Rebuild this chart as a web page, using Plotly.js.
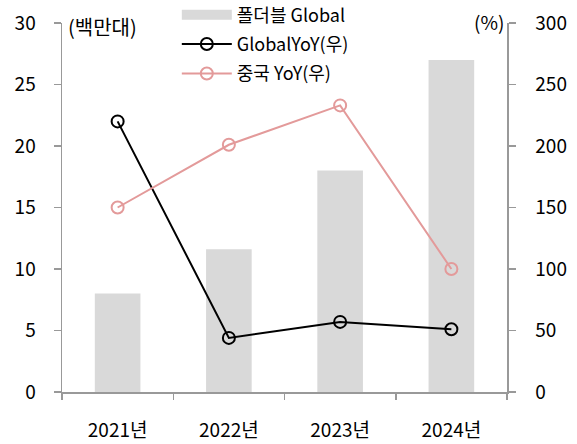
<!DOCTYPE html>
<html>
<head>
<meta charset="utf-8">
<script src="https://cdn.plot.ly/plotly-3.0.1.min.js"></script>
<style>html,body{margin:0;padding:0;background:#fff;}#chart{width:577px;height:444px;}</style>
</head>
<body>
<div id="chart"></div>
<script>
const categories = ["2021년", "2022년", "2023년", "2024년"];
const foldableGlobal = [8, 11.6, 18, 27];
const globalYoY = [220, 44, 57, 51];
const chinaYoY = [150, 201, 233, 100];
const leftTicks = [0, 5, 10, 15, 20, 25, 30];
const rightTicks = [0, 50, 100, 150, 200, 250, 300];

const FONT = "'Noto Sans CJK KR', 'Noto Sans', sans-serif";
const BAR_COLOR = "#d9d9d9";

const traces = [
  {
    type: "bar", x: categories, y: foldableGlobal, name: "폴더블 Global",
    marker: {color: BAR_COLOR}, width: 0.41, yaxis: "y", showlegend: false
  },
  {
    // legend-only entry giving the wide swatch of the bar series
    type: "scatter", mode: "lines", x: [null], y: [null], name: "폴더블 Global",
    line: {color: BAR_COLOR, width: 10}, legendgroup: "a", hoverinfo: "skip"
  },
  {
    type: "scatter", mode: "lines+markers", x: categories, y: globalYoY, name: "GlobalYoY(우)",
    line: {color: "#000000", width: 2}, yaxis: "y2", legendgroup: "b",
    marker: {symbol: "circle-open", size: 12, color: "#000000", line: {width: 2}}
  },
  {
    type: "scatter", mode: "lines+markers", x: categories, y: chinaYoY, name: "중국 YoY(우)",
    line: {color: "#e39a9a", width: 2}, yaxis: "y2", legendgroup: "c",
    marker: {symbol: "circle-open", size: 12, color: "#e39a9a", line: {width: 2}}
  }
];

const layout = {
  width: 577, height: 444,
  margin: {l: 62, r: 70, t: 23, b: 52, pad: 0, autoexpand: false},
  paper_bgcolor: "#fff", plot_bgcolor: "#fff",
  font: {family: FONT, size: 18, color: "#000"},
  showlegend: true,
  legend: {
    x: 0.258, y: 1.072, xanchor: "left", yanchor: "top",
    bgcolor: "rgba(0,0,0,0)", font: {size: 18, family: FONT},
    itemwidth: 50, tracegroupgap: 3, traceorder: "grouped"
  },
  xaxis: {
    type: "category", showline: true, linecolor: "#999", linewidth: 1.5,
    ticks: "outside", tickson: "boundaries", ticklen: 6, tickcolor: "#999", tickwidth: 1.5,
    showgrid: false, zeroline: false, ticklabelstandoff: 21,
    tickfont: {size: 19, family: FONT}
  },
  yaxis: {
    range: [0, 30], tickvals: leftTicks, showline: true, linecolor: "#999", linewidth: 1.5,
    ticks: "outside", ticklen: 7, tickcolor: "#999", tickwidth: 1.5,
    showgrid: false, zeroline: false, ticklabelstandoff: 14,
    tickfont: {size: 19, family: FONT}
  },
  yaxis2: {
    range: [0, 300], tickvals: rightTicks, overlaying: "y", side: "right",
    showline: true, linecolor: "#999", linewidth: 1.5,
    ticks: "outside", ticklen: 7, tickcolor: "#999", tickwidth: 1.5,
    showgrid: false, zeroline: false, ticklabelstandoff: 16,
    tickfont: {size: 19, family: FONT}
  },
  annotations: [
    {text: "(백만대)", xref: "paper", yref: "paper", x: 0.008, y: 1.035, xanchor: "left", yanchor: "top",
     showarrow: false, font: {size: 20, family: FONT}},
    {text: "(%)", xref: "paper", yref: "paper", x: 0.997, y: 1.045, xanchor: "right", yanchor: "top",
     showarrow: false, font: {size: 19, family: FONT}}
  ]
};

Plotly.newPlot("chart", traces, layout, {displayModeBar: false, staticPlot: true});
</script>
</body>
</html>
